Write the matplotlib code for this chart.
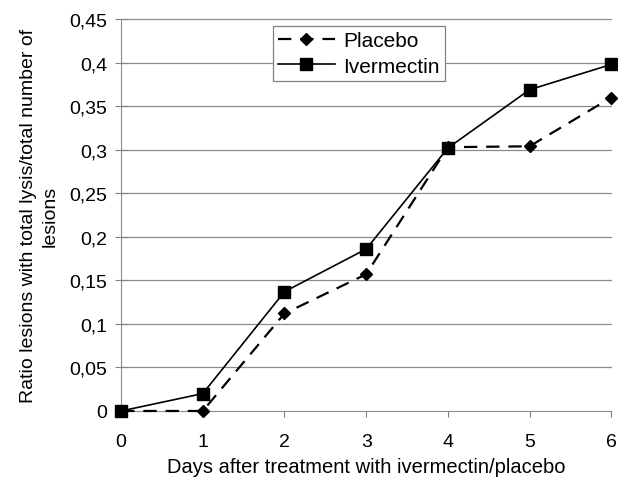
import matplotlib
matplotlib.use('Agg')
import matplotlib.pyplot as plt
from matplotlib.ticker import FuncFormatter

plt.rcParams['font.family'] = ['Liberation Sans', 'DejaVu Sans']

days = [0, 1, 2, 3, 4, 5, 6]
placebo = [0, 0, 0.112, 0.157, 0.303, 0.304, 0.36]
ivermectin = [0, 0.02, 0.137, 0.186, 0.302, 0.369, 0.398]
yticks = [0, 0.05, 0.1, 0.15, 0.2, 0.25, 0.3, 0.35, 0.4, 0.45]

fig = plt.figure(figsize=(6.18, 4.81), dpi=100)
ax = fig.add_axes([0.196, 0.1435, 0.793, 0.8145])

for y in yticks[1:]:
    ax.axhline(y, color='#8c8c8c', lw=0.9, zorder=0)

ax.plot(days, placebo, color='black', ls=(0, (6, 4)), lw=1.6, marker='D',
        ms=6.5, label='Placebo', zorder=3)
ax.plot(days, ivermectin, color='black', ls='-', lw=1.2, marker='s',
        ms=9, label='Ivermectin', zorder=4)

ax.set_xlim(0, 6)
ax.set_ylim(0, 0.45)
ax.set_xticks(days)
ax.set_yticks(yticks)
ax.yaxis.set_major_formatter(FuncFormatter(lambda v, p: ('%g' % round(v, 2)).replace('.', ',')))
ax.tick_params(axis='both', labelsize=14, color='#808080', length=4)
ax.tick_params(axis='y', direction='inout', length=8, pad=6)
ax.tick_params(axis='x', pad=12)

for s in ['top', 'right']:
    ax.spines[s].set_visible(False)
ax.spines['left'].set_color('#8c8c8c')
ax.spines['bottom'].set_color('#8c8c8c')
for l in ax.lines:
    l.set_clip_on(False)

ax.set_ylabel('Ratio lesions with total lysis/total number of\nlesions', fontsize=14,
              labelpad=8, linespacing=1.35)
ax.set_xlabel('Days after treatment with ivermectin/placebo', fontsize=14.5, labelpad=5)

leg = ax.legend(loc='upper left', bbox_to_anchor=(0.31, 0.982), fontsize=15,
                fancybox=False, framealpha=1, edgecolor='#808080', borderaxespad=0,
                handlelength=2.7, handletextpad=0.4, borderpad=0.25, labelspacing=0.3)
leg.get_frame().set_linewidth(0.9)

fig.savefig('out.png', dpi=100)
